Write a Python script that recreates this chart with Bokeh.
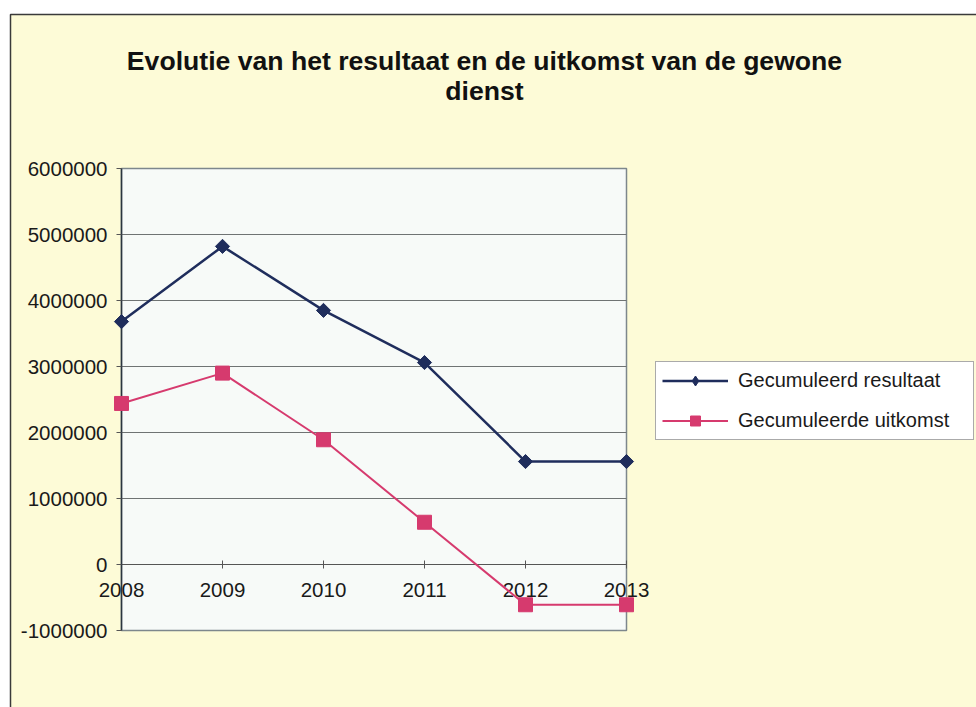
import math
from bokeh.plotting import figure
from bokeh.models import (Range1d, FixedTicker, BasicTickFormatter, Legend, LegendItem,
                          Label, BoxAnnotation)
from bokeh.embed import file_html
from bokeh.resources import INLINE

# ---- data ----
years = [2008, 2009, 2010, 2011, 2012, 2013]
resultaat = [3680000, 4820000, 3850000, 3060000, 1560000, 1560000]
uitkomst = [2440000, 2900000, 1890000, 640000, -610000, -610000]
yticks = [-1000000, 0, 1000000, 2000000, 3000000, 4000000, 5000000, 6000000]
title_lines = ["Evolutie van het resultaat en de uitkomst van de gewone", "dienst"]
series_names = ["Gecumuleerd resultaat", "Gecumuleerde uitkomst"]

FONT = "Liberation Sans"
BG = "#fdfbd7"
PLOT_BG = "#f7faf8"
NAVY = "#1f2d5c"
PINK = "#d63a6e"
GRID = "#6f7373"

# ---- layout (canvas pixels) ----
W, H = 976, 707
X0_PX, X1_PX = 121, 626        # where first / last year sit
Y_TOP_PX, Y_BOT_PX = 168, 630  # where top / bottom y tick sit
xs = (years[-1] - years[0]) / (X1_PX - X0_PX)
x_start = years[0] - X0_PX * xs
x_end = x_start + W * xs
ys = (yticks[-1] - yticks[0]) / (Y_BOT_PX - Y_TOP_PX)
y_end = yticks[-1] + Y_TOP_PX * ys
y_start = y_end - H * ys


def px(cx, cy):
    return x_start + cx * xs, y_end - cy * ys


p = figure(width=W, height=H, output_backend="svg", toolbar_location=None,
           x_range=Range1d(x_start, x_end), y_range=Range1d(y_start, y_end),
           min_border=0, min_border_left=0, min_border_right=0,
           min_border_top=0, min_border_bottom=0,
           background_fill_color="white", border_fill_color="white")
p.outline_line_color = None
p.grid.visible = False

# outer chart area (yellow, framed at left/top)
fx, fy = px(10, 14)
p.add_layout(BoxAnnotation(left=fx, right=x_end + 10, top=fy, bottom=y_start - 1e6,
                           fill_color=BG, fill_alpha=1.0, line_color="#3a3a3a",
                           line_alpha=1.0, line_width=1.5, level="underlay"))

# plot area
p.quad(left=[years[0]], right=[years[-1]], bottom=[yticks[0]], top=[yticks[-1]],
       fill_color=PLOT_BG, line_color="#7d878c", line_width=1.5)
# horizontal gridlines
inner = yticks[1:-1]
p.segment(x0=[years[0]] * len(inner), x1=[years[-1]] * len(inner), y0=inner, y1=inner,
          line_color=GRID, line_width=1)

# series
l1 = p.line(years, resultaat, line_color=NAVY, line_width=2.5, level="overlay")
s1_leg = p.scatter(years, resultaat, marker="diamond", size=10,
                   fill_color=NAVY, line_color=NAVY, level="overlay")
s1 = p.scatter(years, resultaat, marker="square", angle=math.pi / 4, size=10,
               fill_color=NAVY, line_color=NAVY, level="overlay")
l2 = p.line(years, uitkomst, line_color=PINK, line_width=2, level="overlay")
s2 = p.scatter(years, uitkomst, marker="square", size=14,
               fill_color=PINK, line_color=PINK, level="overlay")

# axes
xa = p.xaxis[0]
xa.fixed_location = 0
xa.bounds = (years[0], years[-1])
xa.ticker = FixedTicker(ticks=years)
xa.axis_line_color = "#555555"
xa.major_tick_line_color = "#555555"
xa.major_tick_in = 4
xa.major_tick_out = 4
xa.minor_tick_line_color = None
xa.major_label_text_font = FONT
xa.major_label_text_font_size = "20.5px"
xa.major_label_text_color = "#1a1a1a"
xa.major_label_standoff = 14

ya = p.yaxis[0]
ya.fixed_location = years[0]
ya.bounds = (yticks[0], yticks[-1])
ya.ticker = FixedTicker(ticks=yticks)
ya.formatter = BasicTickFormatter(use_scientific=False)
ya.major_label_overrides = {t: str(t) for t in yticks if t < 0}  # plain hyphen minus
ya.axis_line_color = "#2b3540"
ya.axis_line_width = 1.5
ya.major_tick_line_color = "#555555"
ya.major_tick_in = 0
ya.major_tick_out = 5
ya.minor_tick_line_color = None
ya.major_label_text_font = FONT
ya.major_label_text_font_size = "20.5px"
ya.major_label_text_color = "#1a1a1a"
ya.major_label_standoff = 9

# title (two centred lines)
for line, cy in zip(title_lines, (60, 90)):
    tx, ty = px(484, cy)
    p.add_layout(Label(x=tx, y=ty, text=line, text_align="center", text_baseline="middle",
                       text_font=FONT, text_font_size="26.6px", text_font_style="bold",
                       text_color="#111111"))

# legend
legend = Legend(items=[LegendItem(label=series_names[0], renderers=[l1, s1_leg]),
                       LegendItem(label=series_names[1], renderers=[l2, s2])],
                location=(655, H - 440), margin=0, padding=6, spacing=15,
                glyph_width=66, glyph_height=25, label_height=25, label_width=229,
                label_standoff=10,
                label_text_font=FONT, label_text_font_size="20px", label_text_color="#1a1a1a",
                border_line_color="#555555", border_line_width=1,
                background_fill_color="white", background_fill_alpha=1.0)
p.add_layout(legend, "center")

open("out.html", "w").write(file_html(p, INLINE))
